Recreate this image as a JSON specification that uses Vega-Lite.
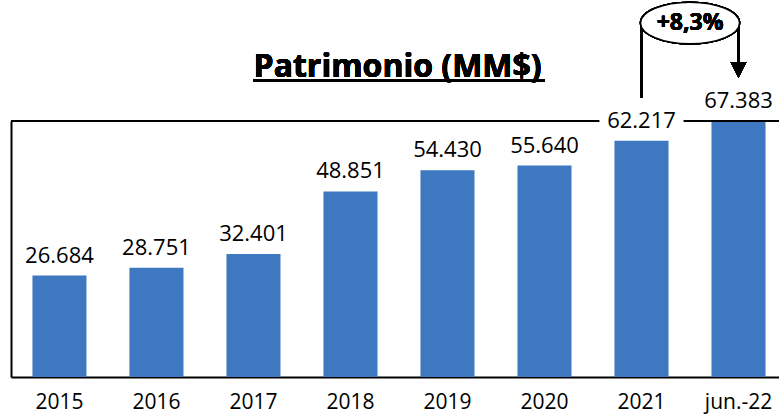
{
  "$schema": "https://vega.github.io/schema/vega-lite/v6.json",
  "width": 768,
  "height": 256,
  "autosize": {"type": "none"},
  "padding": {"left": 11, "top": 121, "right": 0, "bottom": 39},
  "background": "white",
  "config": {
    "view": {"stroke": null},
    "locale": {"number": {"decimal": ",", "thousands": ".", "grouping": [3], "currency": ["$", ""]}},
    "font": "Open Sans"
  },
  "data": {
    "values": [
      {"periodo": "2015", "patrimonio": 26684},
      {"periodo": "2016", "patrimonio": 28751},
      {"periodo": "2017", "patrimonio": 32401},
      {"periodo": "2018", "patrimonio": 48851},
      {"periodo": "2019", "patrimonio": 54430},
      {"periodo": "2020", "patrimonio": 55640},
      {"periodo": "2021", "patrimonio": 62217},
      {"periodo": "jun.-22", "patrimonio": 67383}
    ]
  },
  "layer": [
    {
      "mark": {"type": "bar", "color": "#3D78C0"},
      "encoding": {
        "x": {
          "field": "periodo", "type": "nominal", "sort": null,
          "scale": {"domain": ["2015","2016","2017","2018","2019","2020","2021","jun.-22"], "paddingInner": 0.443, "paddingOuter": 0.18, "align": 0.614},
          "axis": {"title": null, "labelAngle": 0, "ticks": false, "domain": true, "domainColor": "#000000", "domainWidth": 2, "labelFontSize": 21, "labelFont": "Open Sans", "labelColor": "#000000", "labelBaseline": "alphabetic", "labelPadding": 31}
        },
        "y": {
          "field": "patrimonio", "type": "quantitative",
          "scale": {"domain": [0, 67383], "nice": false, "zero": true},
          "axis": {"title": null, "labels": false, "ticks": false, "grid": false, "domain": true, "domainColor": "#000000", "domainWidth": 2}
        }
      }
    },
    {
      "mark": {"type": "rule", "color": "#000000", "strokeWidth": 2},
      "encoding": {"y": {"datum": 67383}}
    },
    {
      "mark": {"type": "bar", "color": "white", "width": {"band": 1.54}},
      "encoding": {
        "x": {"datum": "2021"},
        "y": {"datum": 71856},
        "y2": {"datum": 63960}
      }
    },
    {
      "mark": {"type": "text", "baseline": "alphabetic", "dy": -13, "fontSize": 22, "font": "Open Sans", "color": "#000000"},
      "encoding": {
        "x": {"field": "periodo", "type": "nominal", "sort": null},
        "y": {"field": "patrimonio", "type": "quantitative"},
        "text": {"field": "patrimonio", "type": "quantitative", "format": ",d"}
      }
    },
    {
      "mark": {"type": "rule", "color": "#000000", "strokeWidth": 2},
      "encoding": {"x": {"datum": "2021"}, "y": {"datum": 92124}, "y2": {"datum": 73436}}
    },
    {
      "mark": {"type": "rule", "color": "#000000", "strokeWidth": 2},
      "encoding": {"x": {"datum": "jun.-22"}, "y": {"datum": 92124}, "y2": {"datum": 80806}}
    },
    {
      "mark": {"type": "point", "shape": "M -1 -1 L 1 -1 L 0 1 Z", "filled": true, "color": "#000000", "opacity": 1, "size": 256},
      "encoding": {"x": {"datum": "jun.-22"}, "y": {"datum": 80806}}
    },
    {
      "mark": {"type": "point", "shape": "M -1 0 A 1 0.42 0 1 1 1 0 A 1 0.42 0 1 1 -1 0 Z", "filled": true, "fill": "white", "stroke": "#000000", "strokeWidth": 1.5, "opacity": 1, "size": 9801},
      "encoding": {"x": {"datum": "2021", "bandPosition": 1.398}, "y": {"datum": 93176}}
    },
    {
      "mark": {"type": "text", "text": "+8,3%", "baseline": "middle", "fontSize": 23, "fontWeight": "bold", "font": "Open Sans", "color": "#000000"},
      "encoding": {"x": {"datum": "2021", "bandPosition": 1.398}, "y": {"datum": 93176}}
    },
    {
      "mark": {"type": "text", "text": "Patrimonio (MM$)", "baseline": "alphabetic", "fontSize": 32, "fontWeight": "bold", "font": "Open Sans", "color": "#000000"},
      "encoding": {"x": {"datum": "2018", "bandPosition": 1.372}, "y": {"datum": 78963}}
    },
    {
      "mark": {"type": "rule", "color": "#000000", "strokeWidth": 3},
      "encoding": {"x": {"datum": "2017"}, "x2": {"datum": "2020"}, "y": {"datum": 78042}}
    }
  ]
}
